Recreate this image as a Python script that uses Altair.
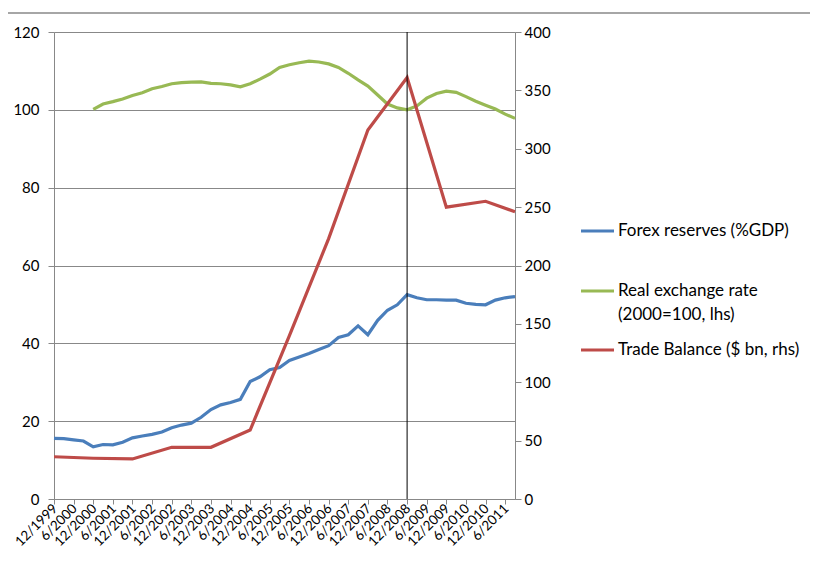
import altair as alt
import pandas as pd

# ---------------- data ----------------
tick_labels = ["12/1999", "6/2000", "12/2000", "6/2001", "12/2001", "6/2002",
               "12/2002", "6/2003", "12/2003", "6/2004", "12/2004", "6/2005",
               "12/2005", "6/2006", "12/2006", "6/2007", "12/2007", "6/2008",
               "12/2008", "6/2009", "12/2009", "6/2010", "12/2010", "6/2011"]
tick_months = [6 * i for i in range(len(tick_labels))]  # months since 12/1999

# quarterly, 12/1999 .. 9/2011
forex = [15.6, 15.5, 15.2, 14.9, 13.4, 14.0, 13.9, 14.6, 15.7, 16.2, 16.6, 17.2,
         18.3, 19.0, 19.5, 21.0, 23.0, 24.2, 24.8, 25.6, 30.2, 31.4, 33.2, 33.8,
         35.6, 36.5, 37.4, 38.4, 39.4, 41.5, 42.2, 44.5, 42.2, 45.9, 48.5, 49.9,
         52.5, 51.7, 51.2, 51.2, 51.1, 51.1, 50.3, 50.0, 49.9, 51.1, 51.7, 52.0]

# quarterly, 12/2000 .. 9/2011
rer = [100.1, 101.5, 102.1, 102.8, 103.7, 104.4, 105.4, 106.0, 106.7, 107.0, 107.1,
       107.2, 106.8, 106.7, 106.4, 105.9, 106.7, 107.9, 109.2, 110.9, 111.6, 112.1,
       112.5, 112.3, 111.8, 110.9, 109.4, 107.7, 106.1, 103.8, 101.5, 100.5, 100.0,
       101.0, 103.0, 104.2, 104.8, 104.5, 103.4, 102.2, 101.2, 100.2, 98.9, 97.8]

# annual (December) points, last one 9/2011; months since 12/1999
trade_months = [0, 12, 24, 36, 48, 60, 72, 84, 96, 108, 120, 132, 141]
trade = [36.2, 34.9, 34.3, 44.3, 44.3, 59.1, 140.0, 223.0, 316.0, 361.0, 250.0, 255.0, 246.0]

crisis_month = 108  # 12/2008

series_names = ["Forex reserves (%GDP)", "Real exchange rate (2000=100, lhs)",
                "Trade Balance ($ bn, rhs)"]
series_colors = ["#4A7EBB", "#98B954", "#BE4B48"]

FONT = "Lato"
GRID = "#888888"

rows = []
for k, v in enumerate(forex):
    rows.append({"month": 3 * k, "value": v, "series": series_names[0]})
for k, v in enumerate(rer):
    rows.append({"month": 12 + 3 * k, "value": v, "series": series_names[1]})
df_left = pd.DataFrame(rows)
df_right = pd.DataFrame({"month": trade_months, "value": trade})
df_ticks = pd.DataFrame({"month": tick_months, "label": tick_labels})

x_scale = alt.Scale(domain=[0, 141], nice=False, zero=False)
x_axis = alt.Axis(values=tick_months, labels=False,
                  tickSize=5, tickColor=GRID, domainColor=GRID,
                  grid=False, title=None)
X = alt.X("month:Q", scale=x_scale, axis=x_axis)

left = alt.Chart(df_left).mark_line(strokeWidth=3.2).encode(
    x=X,
    y=alt.Y("value:Q", scale=alt.Scale(domain=[0, 120], nice=False),
            axis=alt.Axis(orient="left", values=[0, 20, 40, 60, 80, 100, 120],
                          grid=True, gridColor=GRID, gridWidth=1,
                          tickSize=6, tickColor=GRID, domainColor=GRID,
                          labelFontSize=15, labelFont=FONT, labelColor="#000000",
                          labelPadding=9, title=None)),
    color=alt.Color("series:N", scale=alt.Scale(domain=series_names, range=series_colors),
                    legend=None),
)

right = alt.Chart(df_right).mark_line(strokeWidth=3.2, color=series_colors[2]).encode(
    x=X,
    y=alt.Y("value:Q", scale=alt.Scale(domain=[0, 400], nice=False),
            axis=alt.Axis(orient="right", values=list(range(0, 401, 50)),
                          grid=False, tickSize=6, tickColor=GRID, domainColor=GRID,
                          labelFontSize=15, labelFont=FONT, labelColor="#000000",
                          labelPadding=3, title=None)),
)

rule = alt.Chart(pd.DataFrame({"month": [crisis_month]})).mark_rule(
    color="#000000", strokeWidth=1).encode(x=X)

# x tick labels, rotated, placed through the x scale
xlabels = alt.Chart(df_ticks).mark_text(
    angle=315, align="right", baseline="middle", font=FONT, fontSize=13.5,
    color="#000000", dx=2
).encode(x=X, y=alt.value(476), text="label:N")

top_line = alt.Chart(pd.DataFrame({"a": [0]})).mark_rule(
    color="#A6A6A6", strokeWidth=2).encode(
    x=alt.value(-51), x2=alt.value(765), y=alt.value(-19))

# custom legend
leg_rows = [
    {"label": "Forex reserves (%GDP)", "ty": 199, "sy": 199, "c": series_colors[0]},
    {"label": "Real exchange rate", "ty": 259, "sy": 259, "c": series_colors[1]},
    {"label": "(2000=100, lhs)", "ty": 283, "sy": None, "c": None},
    {"label": "Trade Balance ($ bn, rhs)", "ty": 318, "sy": 318, "c": series_colors[2]},
]
legend_layers = []
for r in leg_rows:
    legend_layers.append(
        alt.Chart(pd.DataFrame({"t": [r["label"]]})).mark_text(
            align="left", baseline="middle", font=FONT, fontSize=17, color="#000000"
        ).encode(text="t:N", x=alt.value(564), y=alt.value(r["ty"]))
    )
    if r["sy"] is not None:
        legend_layers.append(
            alt.Chart(pd.DataFrame({"a": [0]})).mark_rule(
                color=r["c"], strokeWidth=3.2).encode(
                x=alt.value(527), x2=alt.value(560), y=alt.value(r["sy"]))
        )

chart = alt.layer(left, right, rule, xlabels, top_line, *legend_layers).resolve_scale(
    y="independent"
).properties(
    width=461, height=467,
    padding={"left": 46, "top": 24, "right": 295, "bottom": 56},
    autosize=alt.AutoSizeParams(type="none"),
).configure_view(stroke=None).configure(background="white")

chart.save("out.html", embed_options={"renderer": "svg", "actions": False})
